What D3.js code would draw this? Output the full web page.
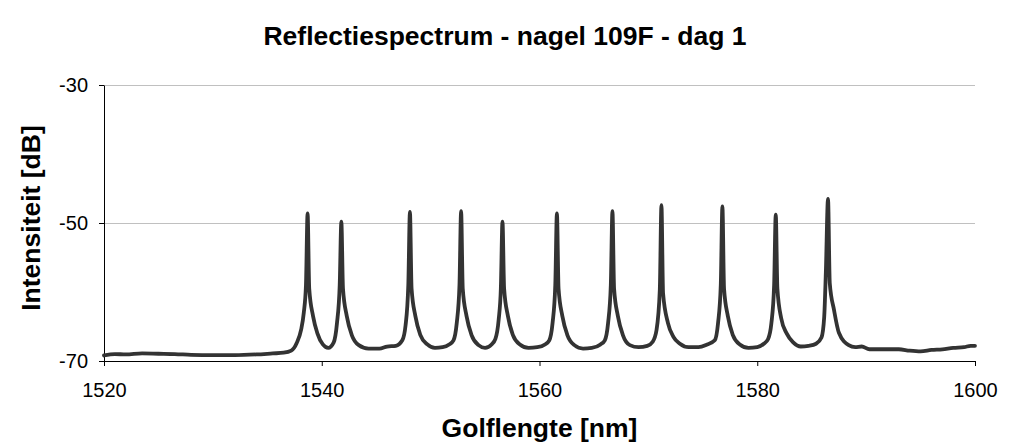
<!DOCTYPE html>
<html>
<head>
<meta charset="utf-8">
<script src="https://cdnjs.cloudflare.com/ajax/libs/d3/7.8.5/d3.min.js"></script>
<style>
  body { margin: 0; background: #fff; }
  text { font-family: "Liberation Sans", Arial, sans-serif; fill: #000; }
</style>
</head>
<body>
<div id="chart"></div>
<script>
// spectrum samples
var golflengte = [
  1520.0, 1521.0, 1522.0, 1523.5, 1525.0, 1526.5, 1528.0, 1530.0, 1532.0, 1534.0, 1535.5, 1536.5, 1537.2,
  1537.7, 1538.1, 1538.35, 1538.55, 1538.7, 1538.85, 1539.2, 1539.6, 1540.1, 1540.6,
  1541.1, 1541.4, 1541.65, 1541.8, 1541.95, 1542.3, 1542.75, 1543.4, 1544.3, 1545.3, 1546.0, 1546.8,
  1547.4, 1547.7, 1547.95, 1548.1, 1548.25, 1548.6, 1549.05, 1549.7, 1550.4, 1551.1, 1551.7,
  1552.1, 1552.4, 1552.65, 1552.8, 1552.95, 1553.3, 1553.75, 1554.4, 1555.0, 1555.6,
  1555.95, 1556.25, 1556.45, 1556.6, 1556.75, 1557.1, 1557.55, 1558.2, 1559.0, 1559.8, 1560.5,
  1560.9, 1561.2, 1561.45, 1561.6, 1561.75, 1562.1, 1562.55, 1563.2, 1564.0, 1564.8, 1565.6,
  1566.0, 1566.3, 1566.55, 1566.7, 1566.85, 1567.2, 1567.65, 1568.3, 1569.1, 1569.9, 1570.4,
  1570.75, 1571.05, 1571.2, 1571.35, 1571.8, 1572.3, 1572.9, 1573.7, 1574.6, 1575.4,
  1576.1, 1576.4, 1576.65, 1576.8, 1576.95, 1577.3, 1577.75, 1578.4, 1579.2, 1580.0, 1580.6,
  1581.0, 1581.3, 1581.55, 1581.7, 1581.85, 1582.2, 1582.7, 1583.3, 1584.0, 1584.7, 1585.4,
  1585.9, 1586.15, 1586.3, 1586.5, 1586.66, 1587.05, 1587.5, 1588.4, 1589.0, 1589.6,
  1590.3, 1591.5, 1593.0, 1594.0, 1595.0, 1596.0, 1597.0, 1598.0, 1599.0, 1599.6, 1600.0
];
var intensiteit = [
  -69.2, -69.0, -69.05, -68.9, -68.95, -69.0, -69.1, -69.15, -69.15, -69.05, -68.9, -68.8, -68.5,
  -67.4, -65.5, -63.0, -59.0, -48.6, -59.5, -63.5, -66.0, -67.6, -68.1,
  -67.3, -64.5, -59.0, -49.8, -59.5, -63.5, -66.2, -67.7, -68.2, -68.2, -67.9, -67.8,
  -67.0, -64.8, -59.0, -48.4, -59.5, -63.5, -66.2, -67.6, -68.1, -68.0, -67.6,
  -67.0, -64.5, -59.0, -48.3, -59.5, -63.5, -66.2, -67.7, -68.1, -67.6,
  -66.8, -64.0, -59.5, -49.8, -59.5, -63.5, -66.2, -67.6, -68.1, -68.0, -67.6,
  -67.0, -64.5, -59.0, -48.6, -59.5, -63.5, -66.2, -67.7, -68.2, -68.1, -67.6,
  -67.0, -64.5, -59.0, -48.3, -59.5, -63.5, -66.2, -67.7, -68.0, -67.8, -67.2,
  -65.5, -59.7, -47.4, -60.2, -64.5, -66.5, -67.5, -68.0, -68.0, -67.6,
  -67.0, -64.5, -59.0, -47.6, -59.5, -63.5, -66.2, -67.6, -68.1, -68.0, -67.5,
  -66.8, -64.5, -59.0, -48.8, -59.5, -63.8, -66.0, -67.3, -67.9, -67.8, -67.5,
  -66.6, -63.6, -57.2, -46.5, -58.7, -62.6, -65.9, -67.7, -68.0, -67.9,
  -68.3, -68.3, -68.3, -68.5, -68.6, -68.4, -68.3, -68.1, -68.0, -67.8, -67.8
];

var xTicks = [1520, 1540, 1560, 1580, 1600];
var yTicks = [-30, -50, -70];
var gridTicks = [-30, -50];

var titel = "Reflectiespectrum - nagel 109F - dag 1";
var xTitel = "Golflengte [nm]";
var yTitel = "Intensiteit [dB]";

var width = 1012, height = 448;
var margin = { top: 85, right: 37, bottom: 87, left: 104 };
var innerW = width - margin.left - margin.right;
var innerH = height - margin.top - margin.bottom;

var svg = d3.select("#chart").append("svg")
  .attr("width", width)
  .attr("height", height);

svg.append("rect")
  .attr("width", width)
  .attr("height", height)
  .attr("fill", "#fff");

var x = d3.scaleLinear().domain([1520, 1600]).range([0, innerW]);
var y = d3.scaleLinear().domain([-70, -30]).range([innerH, 0]);

var g = svg.append("g")
  .attr("transform", "translate(" + margin.left + "," + margin.top + ")");

// gridlines
g.selectAll(".grid")
  .data(gridTicks)
  .enter().append("line")
  .attr("class", "grid")
  .attr("x1", 0)
  .attr("x2", innerW)
  .attr("y1", function (d) { return Math.round(y(d)) + 0.5; })
  .attr("y2", function (d) { return Math.round(y(d)) + 0.5; })
  .attr("stroke", "#c0c0c0")
  .attr("stroke-width", 1);

// plain hyphen for negatives, like the original
var fmt = function (d) { return String(d); };

var xAxis = g.append("g")
  .attr("transform", "translate(0," + innerH + ")")
  .call(d3.axisBottom(x).tickValues(xTicks).tickSizeInner(5).tickSizeOuter(0).tickPadding(17).tickFormat(fmt));

var yAxis = g.append("g")
  .call(d3.axisLeft(y).tickValues(yTicks).tickSizeInner(5).tickSizeOuter(0).tickPadding(11).tickFormat(fmt));

[xAxis, yAxis].forEach(function (a) {
  a.selectAll("path, line").attr("stroke", "#000");
  a.selectAll("text")
    .style("font-family", '"Liberation Sans", Arial, sans-serif')
    .style("font-size", "20px")
    .attr("fill", "#000");
});

var punten = golflengte.map(function (w, i) { return [w, intensiteit[i]]; });

var line = d3.line()
  .curve(d3.curveMonotoneX)
  .x(function (d) { return x(d[0]); })
  .y(function (d) { return y(d[1]); });

g.append("path")
  .datum(punten)
  .attr("d", line)
  .attr("fill", "none")
  .attr("stroke", "#333")
  .attr("stroke-width", 3.8)
  .attr("stroke-linejoin", "round")
  .attr("stroke-linecap", "round");

// titles
svg.append("text")
  .attr("x", 505)
  .attr("y", 45)
  .attr("text-anchor", "middle")
  .style("font-size", "26.5px")
  .style("font-weight", "bold")
  .text(titel);

svg.append("text")
  .attr("x", margin.left + innerW / 2)
  .attr("y", 437)
  .attr("text-anchor", "middle")
  .style("font-size", "26.5px")
  .style("font-weight", "bold")
  .text(xTitel);

svg.append("text")
  .attr("transform", "translate(40," + 218 + ") rotate(-90)")
  .attr("text-anchor", "middle")
  .style("font-size", "26.5px")
  .style("font-weight", "bold")
  .text(yTitel);
</script>
</body>
</html>
